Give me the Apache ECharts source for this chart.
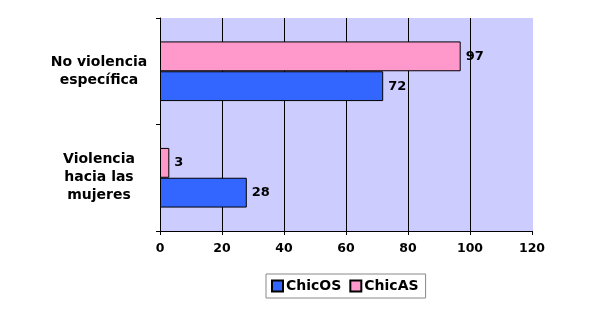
<!DOCTYPE html>
<html><head><meta charset="utf-8">
<script src="https://cdn.jsdelivr.net/npm/echarts@6/dist/echarts.min.js"></script>
<style>html,body{margin:0;padding:0;background:#fff}#c{width:589px;height:334px}</style>
</head><body><div id="c"></div>
<script>
const categories = ["Violencia\nhacia las\nmujeres", "No violencia\nespecífica"];
const chicOS = [28, 72];
const chicAS = [3, 97];
const xTicks = [0, 20, 40, 60, 80, 100, 120];

const font = "DejaVu Sans, Verdana, sans-serif";
const chart = echarts.init(document.getElementById('c'), null, {renderer: 'canvas'});
const labelStyle = {show: true, position: 'right', distance: 5, color: '#000', fontFamily: font, fontWeight: 'bold', fontSize: 13};
chart.setOption({
  animation: false,
  grid: {left: 160, right: 57, top: 18, bottom: 103, show: true, backgroundColor: '#ccccff', borderWidth: 0},
  xAxis: {
    type: 'value', min: xTicks[0], max: xTicks[xTicks.length - 1], interval: 20,
    axisLine: {show: true, lineStyle: {color: '#000', width: 1}},
    axisTick: {show: true, length: 4, lineStyle: {color: '#000'}},
    axisLabel: {color: '#000', fontFamily: font, fontWeight: 'bold', fontSize: 12.5, margin: 11},
    splitLine: {show: true, lineStyle: {color: ['#000', '#000', '#000', '#000', '#000', '#000', '#ccccff'], width: 1}}
  },
  yAxis: {
    type: 'category', data: categories,
    axisLine: {show: true, lineStyle: {color: '#000', width: 1}},
    axisTick: {show: true, length: 4, lineStyle: {color: '#000'}},
    axisLabel: {color: '#000', fontFamily: font, fontWeight: 'bold', fontSize: 14, lineHeight: 18, align: 'center', margin: 61},
    splitLine: {show: false}
  },
  legend: {
    data: ['ChicOS', 'ChicAS'], left: 266, top: 274, orient: 'horizontal',
    itemWidth: 11, itemHeight: 11, itemGap: 8,
    borderColor: '#888', borderWidth: 1, backgroundColor: '#fff', padding: [5, 7, 5, 5],
    textStyle: {color: '#000', fontFamily: font, fontWeight: 'bold', fontSize: 14, padding: [0, 0, 0, -2]},
    icon: 'rect'
  },
  series: [
    {name: 'ChicAS', type: 'bar', data: chicAS, barCategoryGap: '44%', barGap: '0%',
     itemStyle: {color: '#ff99cc', borderColor: '#000', borderWidth: 1}, label: labelStyle},
    {name: 'ChicOS', type: 'bar', data: chicOS, barCategoryGap: '44%', barGap: '0%',
     itemStyle: {color: '#3366ff', borderColor: '#000', borderWidth: 1}, label: labelStyle}
  ]
});
</script></body></html>
